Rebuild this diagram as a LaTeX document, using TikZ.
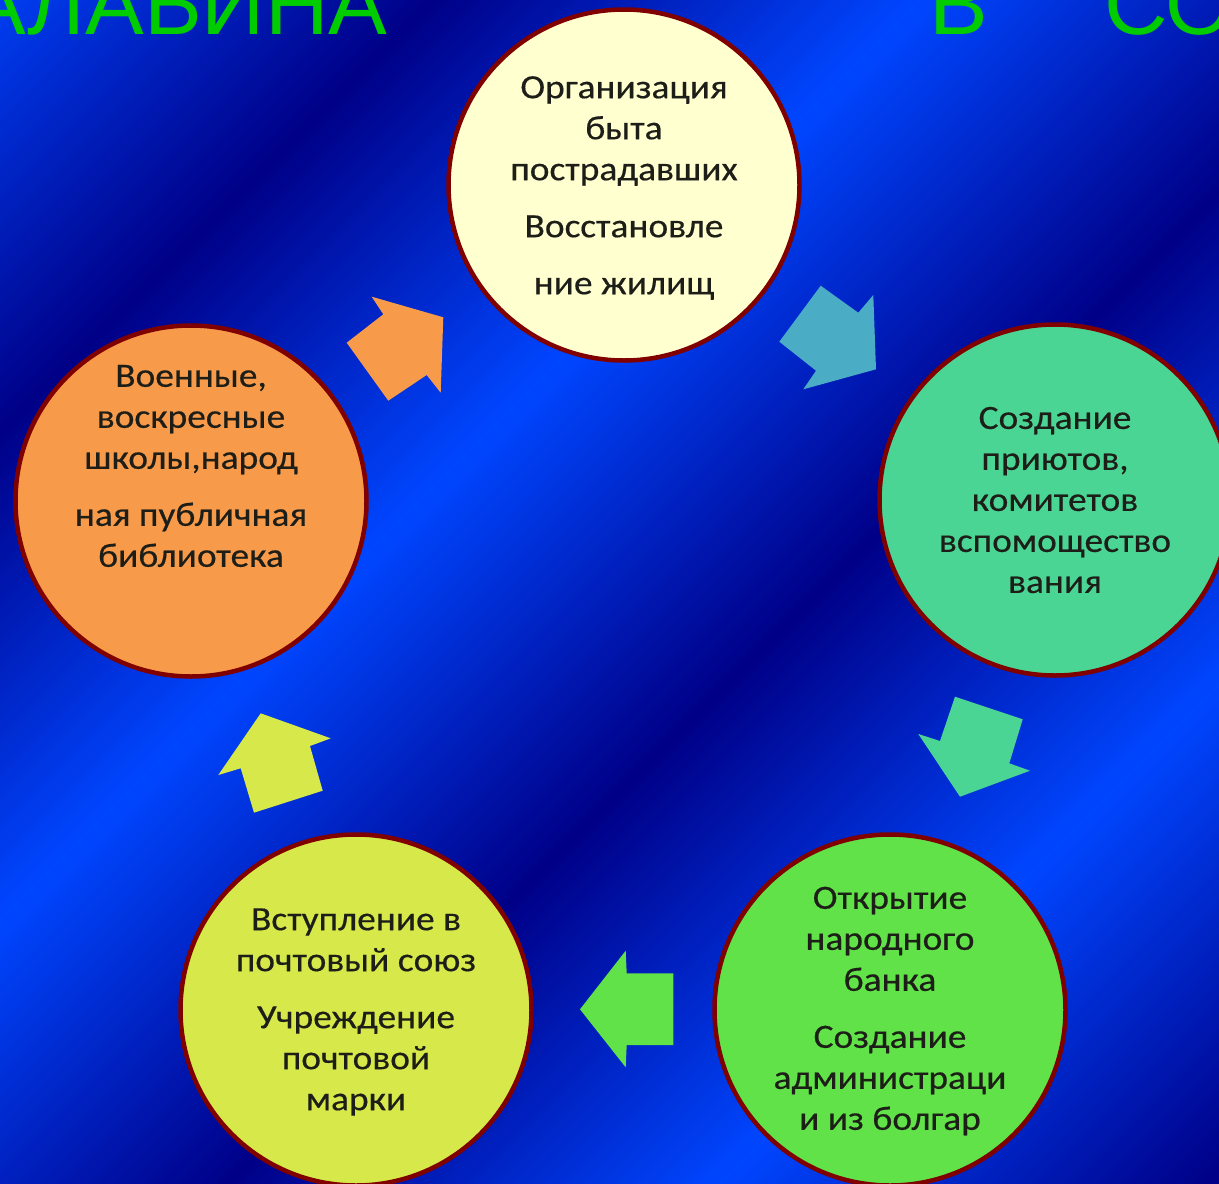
\documentclass[tikz,border=0pt]{standalone}
\usepackage{fontspec}
\setmainfont{Carlito}[FakeStretch=1.1,FakeBold=0.4]
\newfontfamily\titlefont{Liberation Sans}
\definecolor{bgbright}{RGB}{0,70,255}
\definecolor{bgdark}{RGB}{0,0,135}
\definecolor{bord}{RGB}{128,0,0}
\definecolor{txtcol}{RGB}{30,30,25}
\definecolor{titlegreen}{RGB}{0,204,0}
\definecolor{cream}{RGB}{255,255,208}
\definecolor{teal}{RGB}{74,213,148}
\definecolor{lgreen}{RGB}{96,226,72}
\definecolor{ygreen}{RGB}{214,232,74}
\definecolor{orng}{RGB}{247,155,75}
\definecolor{arrblue}{RGB}{75,172,198}
\tikzset{
  circ/.style={circle, draw=bord, line width=4.5pt, minimum size=351pt, inner sep=0pt},
  ctext/.style={align=center, font=\fontsize{34}{41}\selectfont, text=txtcol, inner sep=0pt},
  title/.style={font=\titlefont\fontsize{88}{88}\selectfont, text=titlegreen, inner sep=0pt, anchor=base west},
}
\begin{document}
\begin{tikzpicture}[x=1pt,y=-1pt]
\useasboundingbox (0,0) rectangle (1219,1184);
\begin{scope}
\clip (0,0) rectangle (1219,1184);
\foreach \s in {0,6,...,2412}{
  \pgfmathsetmacro{\ph}{mod(\s+60,980)/490}
  \pgfmathsetmacro{\mixv}{100*(1-abs(\ph-1))}
  \fill[bgdark!\mixv!bgbright] (\s-1,0) -- (\s+7,0) -- (\s+7-1300,1300) -- (\s-1-1300,1300) -- cycle;
}
\end{scope}

% title fragments (cut off at the top edge, as in the reference)
\node[title] (t1) at (-33,34) {АЛАБИНА};
\node[title] (t2) at (929,34) {В};
\node[title] (t3) at (1104,34) {СО};

% circles
\node[circ, fill=cream]  (c1) at (624,185) {};
\node[circ, fill=teal]   (c2) at (1055,500) {};
\node[circ, fill=lgreen] (c3) at (890,1010) {};
\node[circ, fill=ygreen] (c4) at (356,1010) {};
\node[circ, fill=orng]   (c5) at (191,501) {};

\node[ctext] (x1) at ([yshift=-3pt]c1.center) {Организация\\быта\\пострадавших\\[16pt]Восстановле\\[16pt]ние жилищ};
\node[ctext] (x2) at (c2.center) {Создание\\приютов,\\комитетов\\вспомощество\\вания};
\node[ctext] (x3) at ([yshift=-1pt]c3.center) {Открытие\\народного\\банка\\[16pt]Создание\\администраци\\и из болгар};
\node[ctext] (x4) at ([yshift=-2pt]c4.center) {Вступление в\\почтовый союз\\[16pt]Учреждение\\почтовой\\марки};
\node[ctext] (x5) at ([yshift=35pt]c5.center) {Военные,\\воскресные\\школы,народ\\[16pt]ная публичная\\библиотека};

% block arrows
\fill[arrblue] (820.7,285.7) -- (858.3,312.7) -- (873.3,295) -- (876,369.3) -- (803.3,389.3) -- (816,370.7) -- (779.3,341.7) -- cycle;
\fill[teal] (955,696.7) -- (1022.7,719.3) -- (1009.3,763.3) -- (1030,770.7) -- (960,796.7) -- (918.3,734) -- (940,741) -- cycle;
\fill[lgreen] (580,1009.3) -- (625.7,950.7) -- (626.7,973.3) -- (673.3,973.3) -- (673.3,1045) -- (626.7,1045) -- (625.7,1067.3) -- cycle;
\fill[ygreen] (260.7,713.3) -- (330.7,738.3) -- (310,746) -- (322.7,790.7) -- (254,812.7) -- (240.7,768.3) -- (218.3,775) -- cycle;
\fill[orng] (443.3,317.3) -- (440.7,392.7) -- (426.7,375) -- (388.3,400.7) -- (346.7,342.7) -- (383.3,314.3) -- (371.7,296.7) -- cycle;
\end{tikzpicture}
\end{document}
